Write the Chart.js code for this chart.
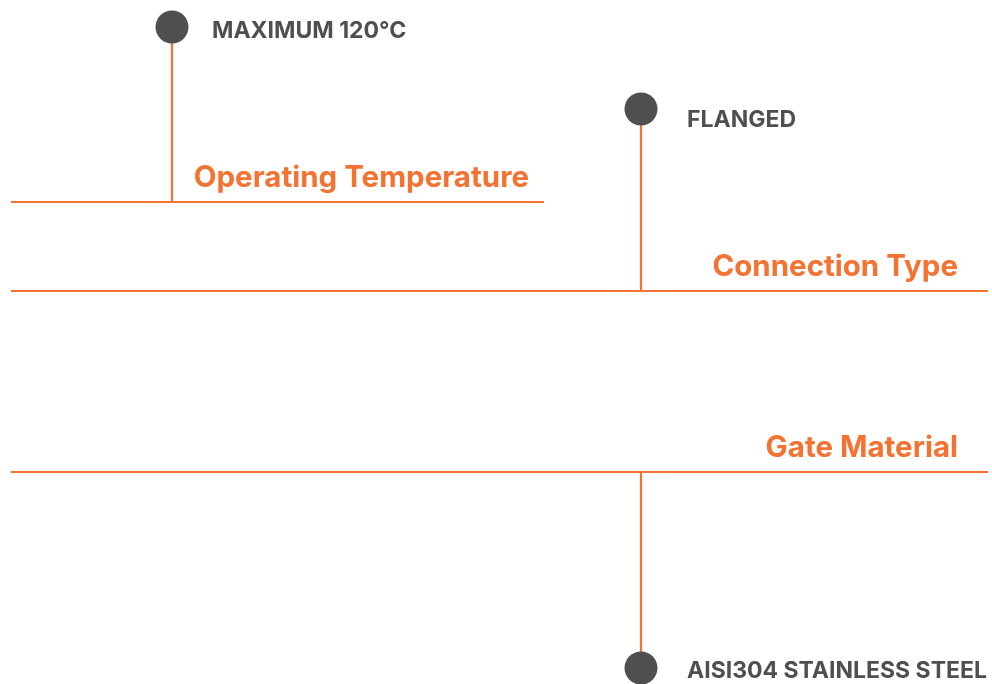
<!DOCTYPE html>
<html>
<head>
<meta charset="utf-8">
<script src="https://cdn.jsdelivr.net/npm/chart.js@4.4.1/dist/chart.umd.min.js"></script>
<style>
  html, body { margin: 0; padding: 0; background: #ffffff; overflow: hidden; }
  #wrap { width: 992px; height: 684px; position: relative; }
</style>
</head>
<body>
<div id="wrap"><canvas id="chart"></canvas></div>
<script>
// Ficha técnica: cada categoría tiene una línea base, un tallo y un punto con su valor
const categories = ['Operating Temperature', 'Connection Type', 'Gate Material'];
const values     = ['MAXIMUM 120°C', 'FLANGED', 'AISI304 STAINLESS STEEL'];

// Niveles en unidades del eje (x: 0..992, y: 0..684 hacia abajo)
const baseY     = [202, 291, 472];
const baseEndX  = [544, 988, 988];
const stemX     = [172, 641, 641];
const dotY      = [27, 109, 668];
const labelEndX = [529, 958, 958];
const valueX    = [212, 687, 687];
const valueY    = [38, 127, 678];

const ORANGE = '#f47232';
const GREY   = '#4f4f4f';
const FONT   = 'Inter, "Open Sans", sans-serif';

const datasets = [];
categories.forEach((c, i) => {
  datasets.push({
    type: 'line',
    order: 2,
    data: [{ x: 11, y: baseY[i] }, { x: baseEndX[i], y: baseY[i] }],
    borderColor: ORANGE, borderWidth: 2.2, pointRadius: 0
  });
  datasets.push({
    type: 'line',
    order: 2,
    data: [{ x: stemX[i], y: baseY[i] }, { x: stemX[i], y: dotY[i] }],
    borderColor: ORANGE, borderWidth: 2.2, pointRadius: 0
  });
});
datasets.push({
  type: 'scatter',
  order: 1,
  data: stemX.map((x, i) => ({ x, y: dotY[i] })),
  backgroundColor: GREY, borderWidth: 0, pointRadius: 16.5
});

// Textos dibujados con las escalas del gráfico
const textPlugin = {
  id: 'labels',
  afterDatasetsDraw(chart) {
    const { ctx, scales: { x, y } } = chart;
    ctx.save();
    ctx.textBaseline = 'alphabetic';
    categories.forEach((c, i) => {
      ctx.fillStyle = ORANGE;
      ctx.font = 'bold 29.5px ' + FONT;
      ctx.textAlign = 'right';
      ctx.fillText(c, x.getPixelForValue(labelEndX[i]), y.getPixelForValue(baseY[i] - 15));

      ctx.fillStyle = GREY;
      ctx.font = 'bold 23px ' + FONT;
      ctx.textAlign = 'left';
      ctx.fillText(values[i], x.getPixelForValue(valueX[i]), y.getPixelForValue(valueY[i]));
    });
    ctx.restore();
  }
};

new Chart(document.getElementById('chart'), {
  data: { datasets },
  options: {
    responsive: true,
    maintainAspectRatio: false,
    animation: false,
    layout: { padding: 0, autoPadding: false },
    plugins: { legend: { display: false }, tooltip: { enabled: false } },
    elements: { line: { tension: 0 } },
    clip: false,
    scales: {
      x: { type: 'linear', min: 0, max: 992, display: false },
      y: { type: 'linear', min: 0, max: 684, reverse: true, display: false }
    }
  },
  plugins: [textPlugin]
});
</script>
</body>
</html>
